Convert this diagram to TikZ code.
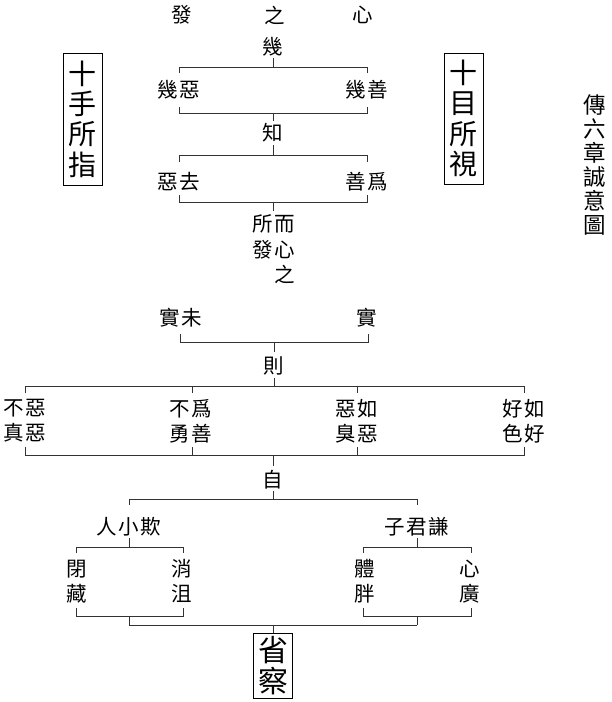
\documentclass[tikz,border=0pt]{standalone}
\usepackage{fontspec}
\newfontfamily\cjk{Noto Sans CJK TC}
\newcommand\gp{\hspace{1.5pt}}
\tikzset{
  lbl/.style={font=\cjk\fontsize{20.5}{25}\selectfont, inner sep=0pt, align=center},
  lbll/.style={font=\cjk\fontsize{20.5}{25.5}\selectfont, inner sep=0pt, align=left},
  ttl/.style={font=\cjk\fontsize{22.5}{24}\selectfont, inner sep=0pt, align=center},
  boxed/.style={draw, line width=0.8pt, inner sep=0pt, align=center, minimum width=39pt},
  ln/.style={line width=0.9pt, black!80}
}
\begin{document}
\begin{tikzpicture}[x=1pt,y=-1pt]
\useasboundingbox (0,0) rectangle (611,702);
% top row
\node[lbl] (fa) at (182,15) {發};
\node[lbl] (zhi0) at (275,15) {之};
\node[lbl] (xin0) at (363,15) {心};
% 幾
\node[lbl] (ji) at (273,47) {幾};
\draw[ln] (273,58) -- (273,67);
\draw[ln] (179,73) -- (179,67) -- (367,67) -- (367,73);
\node[lbl] (jie) at (179,90) {幾\gp{}惡};
\node[lbl] (jis) at (367,90) {幾\gp{}善};
\draw[ln] (179,107) -- (179,113) -- (367,113) -- (367,107);
\draw[ln] (273,113) -- (273,121);
% 知
\node[lbl] (zhi) at (273,133) {知};
\draw[ln] (273,145) -- (273,155);
\draw[ln] (179,162) -- (179,155) -- (367,155) -- (367,162);
\node[lbl] (equ) at (179,182) {惡\gp{}去};
\node[lbl] (sw) at (367,182) {善\gp{}爲};
\draw[ln] (179,195) -- (179,202) -- (367,202) -- (367,195);
\draw[ln] (273,202) -- (273,211);
\node[lbll] (xzsf) at (274,249.5) {所\gp{}而\\發\gp{}心\\\hphantom{發\gp{}}之};
% 實
\node[lbl] (sw1) at (181,318) {實\gp{}未};
\node[lbl] (sh) at (367,318) {實};
\draw[ln] (180,334) -- (180,342) -- (368,342) -- (368,334);
\draw[ln] (274,342) -- (274,352);
\node[lbl] (ze) at (274,366) {則};
\draw[ln] (274,378) -- (274,386);
\draw[ln] (25,393) -- (25,386) -- (524,386) -- (524,393);
\draw[ln] (192,386) -- (192,393);
\draw[ln] (357,386) -- (357,393);
\node[lbl] (c1) at (25,421) {不\gp{}惡\\真\gp{}惡};
\node[lbl] (c2) at (190.5,421) {不\gp{}爲\\勇\gp{}善};
\node[lbl] (c3) at (357,421) {惡\gp{}如\\臭\gp{}惡};
\node[lbl] (c4) at (523.5,421) {好\gp{}如\\色\gp{}好};
\draw[ln] (25,447) -- (25,455) -- (524,455) -- (524,447);
\draw[ln] (192,447) -- (192,455);
\draw[ln] (357,447) -- (357,455);
\draw[ln] (273,455) -- (273,466);
% 自
\node[lbl] (zi) at (273,480) {自};
\draw[ln] (273,491) -- (273,499);
\draw[ln] (129,505) -- (129,499) -- (417,499) -- (417,505);
\node[lbl] (qi) at (129,527) {人\gp{}小\gp{}欺};
\node[lbl] (qian) at (417,527) {子\gp{}君\gp{}謙};
\draw[ln] (129,538) -- (129,547);
\draw[ln] (417,538) -- (417,547);
\draw[ln] (76,553) -- (76,547) -- (183,547) -- (183,553);
\draw[ln] (363,553) -- (363,547) -- (471,547) -- (471,553);
\node[lbl] (bc) at (77,581.5) {閉\\藏};
\node[lbl] (xj) at (182,581.5) {消\\沮};
\node[lbl] (tp) at (365,581.5) {體\\胖};
\node[lbl] (xg) at (470,581.5) {心\\廣};
\draw[ln] (76,608) -- (76,616) -- (183,616) -- (183,608);
\draw[ln] (363,608) -- (363,616) -- (471,616) -- (471,608);
\draw[ln] (129,616) -- (129,625);
\draw[ln] (417,616) -- (417,625);
\draw[ln] (129,625) -- (417,625);
% 省察
\node[boxed, minimum height=65pt, font=\cjk\fontsize{30}{30.5}\selectfont] (xc) at (273,665.5) {省\\察};
\draw[ln] (273,625) -- (xc.north);
% side boxes
\node[boxed, minimum height=132pt, font=\cjk\fontsize{28}{30.3}\selectfont] (ss) at (82.5,119) {十\\手\\所\\指};
\node[boxed, minimum height=131pt, font=\cjk\fontsize{28}{30.3}\selectfont] (sm) at (463.5,118.5) {十\\目\\所\\視};
% title
\node[ttl] (title) at (595,165) {傳\\六\\章\\誠\\意\\圖};
\end{tikzpicture}
\end{document}
